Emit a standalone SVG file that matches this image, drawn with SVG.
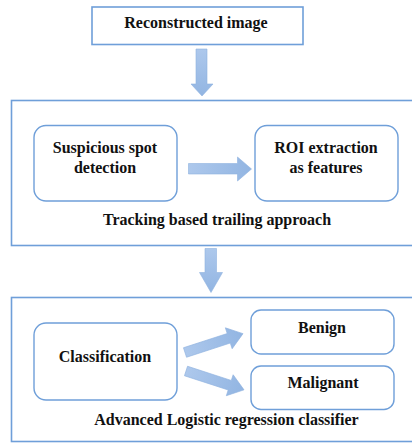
<svg xmlns="http://www.w3.org/2000/svg" width="412" height="443" viewBox="0 0 412 443">
<defs>
<linearGradient id="ag" x1="0" y1="0" x2="0" y2="1">
<stop offset="0" stop-color="#adc8ec"/>
<stop offset="1" stop-color="#92b5e2"/>
</linearGradient>
<linearGradient id="agh" x1="0" y1="0" x2="1" y2="0">
<stop offset="0" stop-color="#adc8ec"/>
<stop offset="1" stop-color="#92b5e2"/>
</linearGradient>
<style>
.box{fill:#ffffff;stroke:#6f9fd9;stroke-width:1.6}
.rbox{fill:#ffffff;stroke:#6f9fd9;stroke-width:1.4}
.t{font-family:"Liberation Serif","Times New Roman",serif;font-weight:bold;font-size:16px;fill:#111;text-anchor:middle}
.arr{fill:url(#ag);stroke:#8fb2df;stroke-width:0.6}
.arrh{fill:url(#agh);stroke:#8fb2df;stroke-width:0.6}
</style>
</defs>
<rect width="412" height="443" fill="#ffffff"/>

<g id="reconstructed">
<rect class="box" x="92" y="7" width="211" height="37.5"/>
<text class="t" transform="translate(196,28) scale(1,1.06)">Reconstructed image</text>
</g>

<g id="tracking">
<rect class="box" x="11.5" y="100.5" width="405" height="145"/>
<text class="t" transform="translate(217,225) scale(1,1.06)">Tracking based trailing approach</text>
</g>

<g id="suspicious">
<rect class="rbox" x="34" y="125.5" width="143" height="75.5" rx="12"/>
<text class="t" transform="translate(105,153) scale(1,1.06)">Suspicious spot</text>
<text class="t" transform="translate(105,172.5) scale(1,1.06)">detection</text>
</g>

<g id="roi">
<rect class="rbox" x="255" y="125.5" width="143" height="75.5" rx="12"/>
<text class="t" transform="translate(326,153) scale(1,1.06)">ROI extraction</text>
<text class="t" transform="translate(326,172.5) scale(1,1.06)">as features</text>
</g>

<g id="classifier">
<rect class="box" x="11.5" y="297.5" width="405" height="144"/>
<text class="t" transform="translate(226.5,425) scale(1,1.06)">Advanced Logistic regression classifier</text>
</g>

<g id="classification">
<rect class="rbox" x="34" y="323" width="143" height="77" rx="12"/>
<text class="t" transform="translate(105,361.5) scale(1,1.06)">Classification</text>
</g>

<g id="benign">
<rect class="rbox" x="251" y="310" width="143" height="44" rx="10"/>
<text class="t" transform="translate(322,332.5) scale(1,1.06)">Benign</text>
</g>

<g id="malignant">
<rect class="rbox" x="251" y="366" width="143" height="43.5" rx="10"/>
<text class="t" transform="translate(323,387.5) scale(1,1.06)">Malignant</text>
</g>

<g id="connectors">
<polygon class="arr" points="196,49 207,49 207,84 213,84 202,96 191,84 196,84"/>
<polygon class="arr" points="205,248.5 216.5,248.5 216.5,272.5 222.5,272.5 211,292.5 199.5,272.5 205,272.5"/>
<polygon class="arrh" points="188.5,163.5 237.5,163.5 237.5,157 251.5,169 237.5,181 237.5,174 188.5,174"/>
<polygon class="arrh" transform="translate(185,352.5) rotate(-18)" points="0,-5 46,-5 46,-11 61,0 46,11 46,5 0,5"/>
<polygon class="arrh" transform="translate(186,371) rotate(18)" points="0,-5 46,-5 46,-11 61,0 46,11 46,5 0,5"/>
</g>
</svg>
